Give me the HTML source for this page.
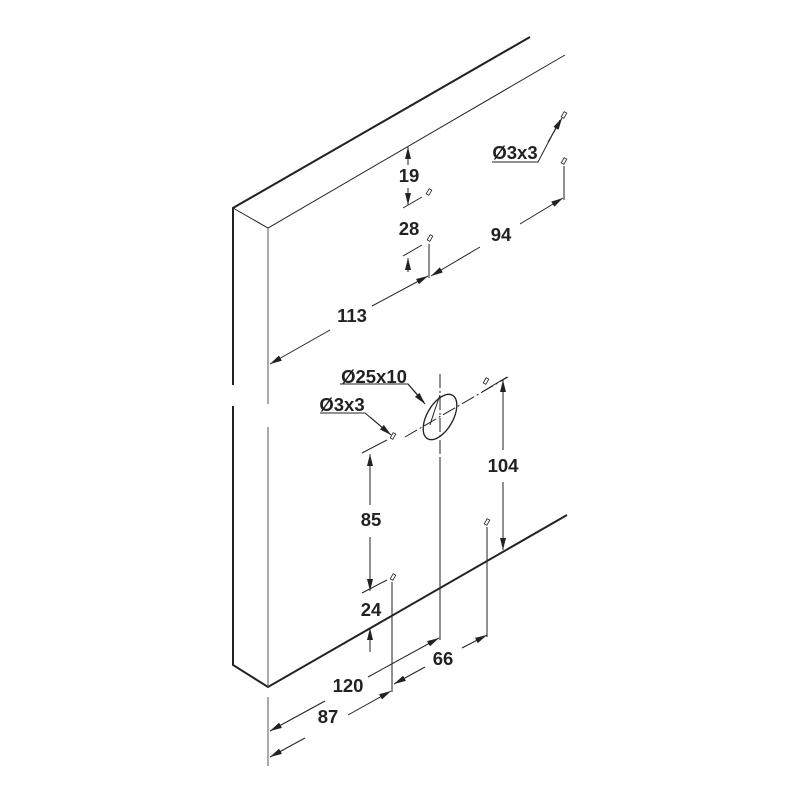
<!DOCTYPE html>
<html><head><meta charset="utf-8"><style>
html,body{margin:0;padding:0;background:#fff;}
svg{display:block;}
text{font-family:"Liberation Sans",Arial,sans-serif;font-weight:bold;font-size:18.5px;fill:#222;text-anchor:middle;}
</style></head><body>
<svg width="800" height="800" viewBox="0 0 800 800" xmlns="http://www.w3.org/2000/svg">
<defs>
<marker id="a" viewBox="0 0 12 6" refX="12" refY="3" markerWidth="12" markerHeight="6" markerUnits="userSpaceOnUse" orient="auto-start-reverse">
<path d="M0,0 L12,3 L0,6 z" fill="#222"/></marker>
</defs>
<g stroke="#222" fill="none">
<path d="M530,37 L233,208 L233,385 M233,406 L233,665 L268,687 L567,515" stroke-width="2"/>
<path d="M233,208 L268,228 L565,55" stroke-width="1"/>
<path d="M268,228 L268,404 M268,427 L268,687" stroke-width="1" stroke="#555"/>
<path d="M268,697 L268,766" stroke-width="1" stroke="#555"/>

<g stroke-width="1">
<line x1="408" y1="165" x2="408" y2="147" marker-end="url(#a)"/>
<line x1="408" y1="188" x2="408" y2="205" marker-end="url(#a)"/>
<line x1="403" y1="208" x2="422" y2="197"/>
<line x1="403" y1="256" x2="422" y2="245"/>
<line x1="408" y1="272" x2="408" y2="258" marker-end="url(#a)"/>
<line x1="429" y1="244" x2="429" y2="278"/>
<line x1="480" y1="247" x2="431" y2="276" marker-end="url(#a)"/>
<line x1="520" y1="224" x2="563" y2="198" marker-end="url(#a)"/>
<line x1="564" y1="166" x2="564" y2="200"/>
<polyline points="492,162 538,162 560,120" />
<line x1="548" y1="142" x2="562" y2="118" marker-end="url(#a)"/>
<line x1="330" y1="330" x2="270" y2="364" marker-end="url(#a)"/>
<line x1="372" y1="306" x2="428" y2="276" marker-end="url(#a)"/>

<line x1="440" y1="374" x2="440" y2="458" stroke-dasharray="14,3,2,3"/>
<line x1="440" y1="458" x2="440" y2="640"/>
<line x1="405" y1="437" x2="508" y2="377" stroke-dasharray="14,3,2,3"/>
<ellipse cx="440" cy="417" rx="13" ry="25" transform="rotate(30 440 417)" stroke-width="1.3"/>
<path d="M440,395 Q433,415 430,425" />
<polyline points="340,384 408,384 424,402"/>
<line x1="408" y1="384" x2="425" y2="404" marker-end="url(#a)"/>
<polyline points="320,413 365,413 390,434"/>
<line x1="370" y1="417" x2="391" y2="435" marker-end="url(#a)"/>
<line x1="362" y1="453" x2="387" y2="440"/>
<line x1="362" y1="593" x2="387" y2="580"/>
<line x1="370" y1="505" x2="370" y2="454" marker-end="url(#a)"/>
<line x1="370" y1="537" x2="370" y2="591" marker-end="url(#a)"/>
<line x1="370" y1="652" x2="370" y2="628" marker-end="url(#a)"/>
<line x1="482" y1="392" x2="507" y2="377"/>
<line x1="503" y1="450" x2="503" y2="380" marker-end="url(#a)"/>
<line x1="503" y1="482" x2="503" y2="550" marker-end="url(#a)"/>
<line x1="392" y1="582" x2="392" y2="692"/>
<line x1="487" y1="527" x2="487" y2="637"/>
<line x1="425" y1="667" x2="394" y2="684" marker-end="url(#a)"/>
<line x1="462" y1="648" x2="487" y2="635" marker-end="url(#a)"/>
<line x1="325" y1="701" x2="270" y2="731" marker-end="url(#a)"/>
<line x1="368" y1="677" x2="439" y2="638" marker-end="url(#a)"/>
<line x1="305" y1="738" x2="270" y2="757" marker-end="url(#a)"/>
<line x1="348" y1="715" x2="391" y2="691" marker-end="url(#a)"/>
</g>
<g stroke-width="0.8">
<g transform="translate(429,192) rotate(-60)"><rect x="-3" y="-1.5" width="6" height="3"/></g>
<g transform="translate(430,238) rotate(-60)"><rect x="-3" y="-1.5" width="6" height="3"/></g>
<g transform="translate(564,115) rotate(-60)"><rect x="-3" y="-1.5" width="6" height="3"/></g>
<g transform="translate(564,161) rotate(-60)"><rect x="-3" y="-1.5" width="6" height="3"/></g>
<g transform="translate(486,381) rotate(-60)"><rect x="-3" y="-1.5" width="6" height="3"/></g>
<g transform="translate(393,436) rotate(-60)"><rect x="-3" y="-1.5" width="6" height="3"/></g>
<g transform="translate(487,522) rotate(-60)"><rect x="-3" y="-1.5" width="6" height="3"/></g>
<g transform="translate(393,577) rotate(-60)"><rect x="-3" y="-1.5" width="6" height="3"/></g>
</g>
</g>
<text x="409" y="182">19</text>
<text x="409" y="235">28</text>
<text x="501" y="241">94</text>
<text x="515" y="159">Ø3x3</text>
<text x="352" y="322">113</text>
<text x="374" y="383">Ø25x10</text>
<text x="342" y="411">Ø3x3</text>
<text x="371" y="526">85</text>
<text x="371" y="616">24</text>
<text x="503" y="472">104</text>
<text x="443" y="665">66</text>
<text x="348" y="692">120</text>
<text x="328" y="723">87</text>
</svg>
</body></html>
